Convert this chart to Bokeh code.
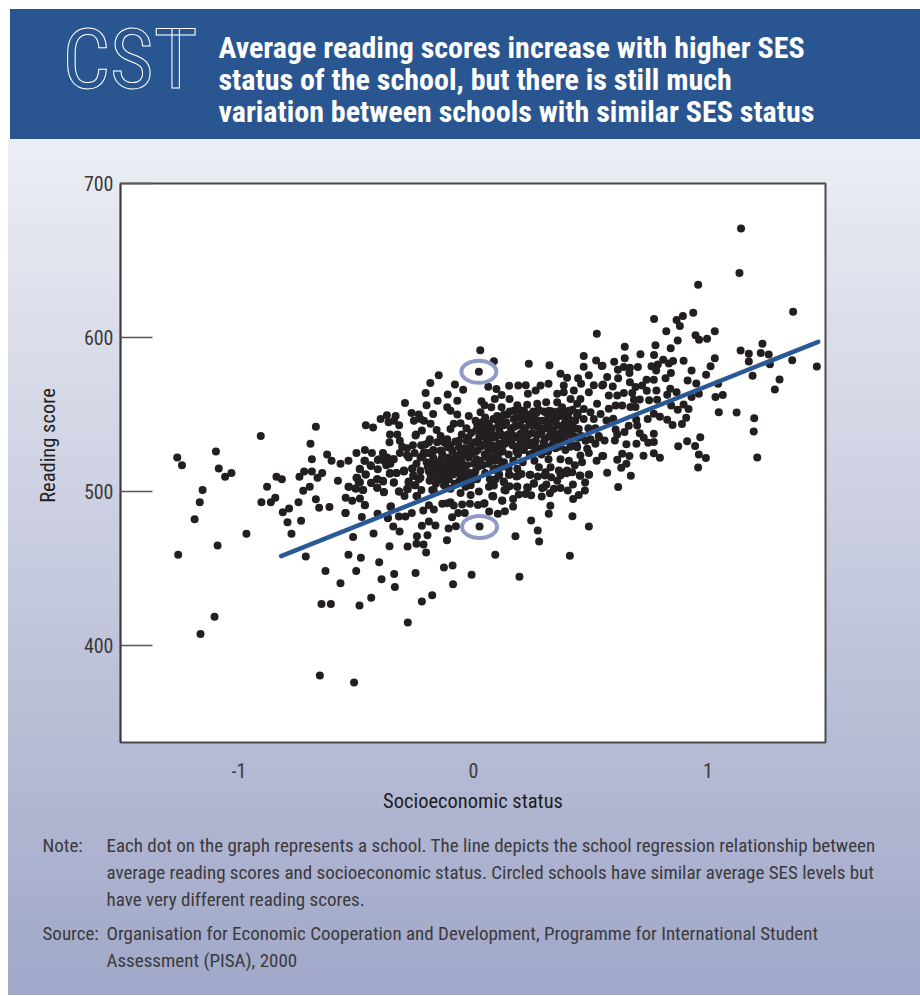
import math
from bokeh.plotting import figure
from bokeh.layouts import column, row
from bokeh.models import Label, FixedTicker
from bokeh.embed import file_html
from bokeh.resources import INLINE

# Values: (socioeconomic status, reading score) for each school, by region
schools_far_left = [(-1.263,522),(-1.243,517),(-1.098,526),(-1.086,515),(-1.032,512),(-1.059,509.5),(-1.155,501),(-1.167,493),(-1.189,482),(-0.968,472.5),(-1.091,465),(-1.259,459),(-0.907,536),(-1.104,418.6),(-1.164,407.5),
(-0.904,493),(-0.864,493),(-0.845,496),(-0.88,503),(-0.84,509.5),(-0.817,508),(-0.813,486.5),(-0.786,489),(-0.793,480),(-0.735,481),(-0.776,472.5),(-0.746,493)]

schools_low = [(-0.655,380.5),(-0.509,376),(-0.28,415),(-0.648,427),(-0.608,427),(-0.486,426),(-0.436,431),(-0.176,432.6),(-0.22,428.5),(-0.567,440.4),(-0.392,443),(-0.335,438),(-0.338,446.5),(-0.087,439.8),(-0.008,446),(-0.247,447),(-0.5,448.4),(-0.631,448.4),(-0.402,454),(-0.126,450.6),(-0.089,452),(-0.533,459),(-0.48,457),(-0.715,457.8),(0.093,459),(-0.202,460.4),(-0.358,464.5),(-0.281,464.2),(-0.243,466),(-0.213,465.5),(-0.113,468.4),(-0.513,470.5),(-0.426,472.7),(-0.241,471),(-0.196,471.6),(-0.315,474),(-0.342,477.2),(-0.22,477.7),(-0.19,480.5),(-0.162,477.9),(-0.106,476),(-0.075,477.4),(0.026,477.2),
(-0.546,486),(-0.476,483.5),(-0.409,485.5),(-0.365,482.6),(-0.318,483.7),(-0.29,483.7),(-0.263,486),(-0.214,487.6),(-0.169,488.3),(-0.19,491),(-0.133,492),(-0.091,483.3),(-0.065,486),(-0.037,486),(0.067,487),(0.104,485.5),(-0.015,492),(0.019,491.3),(0.047,492.4),(-0.084,490.9),(-0.048,491.5),(-0.112,492.4),(-0.463,491.3),(-0.352,490.4)]

schools_mid_left = [(-0.672,542),(-0.695,531),(-0.689,521),(-0.624,524),(-0.605,520),(-0.567,518),(-0.533,520),(-0.499,525),(-0.463,527),(-0.433,525),(-0.459,543),(-0.428,541.5),(-0.722,513),(-0.689,513),(-0.645,512),(-0.665,509),(-0.742,509.5),(-0.698,503),(-0.726,500.5),(-0.672,495),(-0.658,489.5),(-0.614,490),(-0.578,507),(-0.545,486),(-0.533,503),(-0.501,502),(-0.47,501),(-0.484,506),(-0.496,509),(-0.459,511),(-0.484,514.5),(-0.463,520),(-0.437,516.5),(-0.408,514.5),(-0.408,520.5),(-0.386,525),(-0.368,522),(-0.354,518),(-0.342,521),(-0.372,517),(-0.382,520),(-0.356,512),(-0.329,512),(-0.295,513.5),(-0.261,515),(-0.436,505.5),(-0.41,508),(-0.385,506.5),(-0.41,502.5),(-0.382,499.5),(-0.339,506),(-0.317,500),(-0.294,497),(-0.277,506),(-0.28,501.5),(-0.248,504),(-0.243,497),(-0.545,496),(-0.517,494),(-0.484,495.5),(-0.463,491),(-0.354,490),(-0.365,483),
(-0.292,557.5),(-0.264,551),(-0.233,550),(-0.369,549.5),(-0.332,549),(-0.396,547),(-0.362,545),(-0.339,546),(-0.254,546),(-0.226,547),(-0.317,543),(-0.356,537),(-0.325,537),(-0.245,537),(-0.358,532),(-0.314,533),(-0.304,529),(-0.314,525),(-0.283,528),(-0.258,530),(-0.251,525),(-0.283,523.5),(-0.226,522),(-0.243,518),(-0.254,510),(-0.226,513.5),(-0.233,508),
(-0.276,522),(-0.216,523.4),(-0.195,525),(-0.172,527),(-0.14,526.6),(-0.112,528.8),(-0.091,526.6),(-0.062,528.8),(-0.375,522),(-0.34,521),(-0.465,520),(-0.439,517),(-0.403,521),(-0.485,514.7),(-0.357,511.5),(-0.328,512),(-0.297,513),(-0.261,514.7),(-0.257,510.4),(-0.46,511),(-0.499,509),(-0.489,506),(-0.411,508),(-0.386,507),(-0.436,505.6),(-0.34,505.6),(-0.276,506.5),(-0.251,504),(-0.411,502.4),(-0.382,499.6),(-0.531,503),(-0.503,502),(-0.472,501),(-0.283,501.8),(-0.318,500),(-0.222,501),(-0.24,497),(-0.176,501)]

schools_upper_center = [(0.029,591.7),(0.087,584.6),(0.023,577.7),(0.236,583),(0.324,582),(-0.148,575.5),(-0.184,570.5),(-0.204,564),(-0.079,569.4),(-0.044,566),(-0.11,563),(-0.153,559),(-0.069,559),(-0.2,556),(0.063,568),(0.098,566.6),(0.152,568.6),(0.191,568.8),(0.223,569),(0.286,568.8),(0.32,570),(0.265,565.5),(0.232,563.4),(0.12,562.7),(0.154,560),(0.357,563.4),(0.034,558.6),(0.091,560),(0.047,556),(0.076,554.7),(0.12,554.7),(0.187,556),(0.229,556.4),(0.272,557),(0.31,558),(0.322,552.5),(0.357,558),
(-0.172,550.4),(-0.211,546),(-0.183,544),(-0.157,540),(-0.22,539.6),(-0.247,536.3),(-0.186,534),(-0.112,554.7),(-0.098,552.5),(-0.069,550),(-0.02,549),(0.03,551.5),(-0.084,544),(-0.055,544.3),(-0.098,540.6),(0.009,546),(0.044,543),(0.03,539.6),(0.059,539.6),(0.106,543),(0.13,543),(0.101,549),(0.144,550),(0.172,552.5),(0.215,552.5),(0.258,550),(-0.022,535),(-0.062,533),(-0.098,530),(-0.126,532),(-0.19,532),(-0.223,530),(-0.211,525.5),(-0.169,526.6),(-0.133,524.4),(-0.105,522),(-0.05,537),(-0.03,541),(-0.01,538),(-0.04,528),(-0.03,533),(-0.01,530),(-0.14,536),(-0.112,534),(-0.077,532.5),(-0.155,532),(-0.205,530.5)]

schools_dense_left = [(-0.2,519),(-0.19,513),(-0.187,507),(-0.177,516),(-0.172,522),(-0.165,510),(-0.16,505),(-0.155,518),(-0.15,513),(-0.143,508),(-0.138,521),(-0.133,515),(-0.128,511),(-0.12,505),(-0.115,518),(-0.11,513),(-0.105,508),(-0.098,520),(-0.092,515),(-0.087,511),(-0.08,505),(-0.075,523),(-0.07,517),(-0.065,512),(-0.06,507),(-0.052,520),(-0.047,514),(-0.04,509),(-0.034,503),(-0.028,517),(-0.02,522),(-0.015,512),(-0.01,507),(-0.005,525),(0.002,518),(0.008,513),(0.015,508),
(-0.195,516),(-0.182,510),(-0.17,519),(-0.158,513),(-0.146,517),(-0.135,509),(-0.122,514),(-0.112,509),(-0.102,516),(-0.09,519),(-0.078,514),(-0.068,520),(-0.055,511),(-0.043,517),(-0.03,512),(-0.018,508),(-0.06,524),(-0.04,524),(-0.024,527),(0.0,510),(0.012,521)]

schools_dense_middle = [(0.005,532),(0.012,540),(0.018,527),(0.025,536),(0.03,520),(0.037,545),(0.042,530),(0.048,524),(0.053,538),(0.06,533),(0.066,518),(0.07,527),(0.077,541),(0.083,522),(0.09,535),(0.095,515),(0.1,529),(0.105,546),(0.112,520),(0.118,537),(0.125,526),(0.02,516),(0.05,512),(0.07,508),(0.09,520),(0.11,511),(0.13,519),(0.15,515),(0.17,520),(0.19,524),(0.21,519),(0.24,524),(0.26,520),(0.29,524),(0.32,521),
(0.01,526),(0.02,533),(0.03,529),(0.04,536),(0.05,531),(0.062,526),(0.07,535),(0.08,530),(0.09,527),(0.1,536),(0.11,531),(0.12,529),(0.13,535),(0.085,514),(0.06,522),(0.04,517),(0.12,516),(0.105,524),
(0.015,544),(0.05,548),(0.065,544),(0.085,547),(0.12,546),(0.13,550),(0.16,533),(0.08,537),(0.035,541),(0.11,540)]

schools_dense_right = [(0.135,531),(0.14,545),(0.146,537),(0.15,524),(0.155,552),(0.16,541),(0.166,530),(0.172,547),(0.178,535),(0.183,526),(0.19,543),(0.195,553),(0.2,532),(0.205,538),(0.21,547),(0.215,527),(0.22,541),(0.226,534),(0.232,550),(0.238,544),(0.243,530),(0.25,538),(0.255,525),(0.26,547),(0.266,533),(0.272,542),(0.278,553),(0.283,528),(0.289,537),(0.295,546),(0.3,532),(0.306,541),(0.312,551),(0.318,526),(0.323,536),(0.33,545),(0.335,530),(0.34,540),(0.346,549),(0.352,534),(0.358,543),(0.363,529),(0.37,538),(0.375,549),(0.381,533),(0.387,544),(0.392,527),(0.398,537),(0.404,548),(0.41,532),(0.416,543),(0.422,553),(0.428,536),(0.434,546),(0.44,530),
(0.15,533),(0.165,537),(0.175,542),(0.19,529),(0.198,537),(0.212,533),(0.225,547),(0.235,537),(0.248,543),(0.262,529),(0.27,537),(0.28,546),(0.293,540),(0.305,534),(0.315,544),(0.328,540),(0.34,534),(0.352,547),(0.365,536),(0.378,542),(0.39,536),(0.402,541),(0.415,537),(0.426,546),(0.2,543),(0.255,552),(0.3,552),
(0.185,548),(0.205,551),(0.245,548),(0.268,551),(0.285,541),(0.32,548),(0.335,552),(0.345,537),(0.36,552),(0.372,531),(0.385,551),(0.395,546),(0.41,552),(0.43,541),(0.445,551),(0.45,535),(0.255,532),(0.225,530),(0.31,529),(0.35,528)]

schools_below_line = [(-0.012,504),(-0.055,499),(-0.098,493),(-0.226,509),(-0.297,513.6),(-0.169,500.6),(-0.126,504),(-0.098,501.7),(-0.012,497.8),(0.023,500),(0.084,497),(0.044,492),(0.08,497),(0.123,494),(0.066,503),(0.094,508),(0.137,500.6),(0.151,510.8),(0.187,514.7),(0.189,510),(0.243,510.8),(0.279,515.7),(0.187,503),(0.229,502.8),(0.13,506),(0.258,505),(0.3,502.8),(0.357,507),(0.393,512.5),(0.307,512.5),(0.329,515.7),(0.364,513.6),
(0.196,444.6),(0.411,458.2),(0.179,471),(0.28,467.5),(0.274,474.6),(0.246,481.1),(0.492,477.2),(0.321,485.5),(0.328,490.7),(0.422,484),(0.425,495.2),(0.449,497.8),(0.475,500.6),(0.476,505.8),(0.493,511),(0.453,510.4),(0.424,504.5),(0.402,500.6),(0.371,502.3),(0.343,501.7),(0.326,498.9),(0.291,496.7),(0.246,497.6),(0.222,498.4),(0.193,498),(0.232,502.3),(0.311,504.5),(0.293,502.3),(0.257,505.4),(0.371,510.4),(0.331,509.3),(0.304,510.4),(0.274,509.7),(0.24,510.8),(0.205,511.4),(0.183,509.7),(0.154,510.8),(0.186,503.2),(0.154,503.4),(0.132,501),(0.129,506.5),(0.169,495.2),(0.122,494.1),(0.169,490.2),(0.134,487.2),(0.084,496.7),(0.087,503.9),(0.108,510.4),(0.421,512.5),(0.397,511.9)]

schools_upper_right = [(0.526,602.5),(0.47,588),(0.47,581),(0.523,585),(0.547,581.5),(0.492,575.5),(0.446,573.5),(0.399,573.8),(0.371,576.4),(0.459,570),(0.553,569.4),(0.513,569),(0.492,564.4),(0.428,565.5),(0.456,560),(0.527,557),(0.499,551.5),(0.47,553.6),(0.442,557),(0.414,560),(0.385,568.8),(0.385,564.4),(0.378,554.7),(0.407,552.5),(0.442,549.3),(0.47,547),(0.513,547),(0.542,550.4),(0.385,541.7),(0.414,545),(0.449,540.6),(0.534,536),(0.499,534),(0.478,533),(0.52,531),(0.485,527.7),(0.442,528.7),(0.414,529),(0.456,523.3),(0.492,525),(0.525,520),(0.549,523),(0.463,519),(0.432,517),(0.407,520),(0.371,521),(0.399,513.6),(0.371,512.5),(0.456,510.3),(0.492,510.8),(0.535,535),(0.52,541),(0.49,541),(0.46,536),
(1.141,670.8),(1.134,641.8),(0.958,634.2),(1.363,616.7),(0.77,612),(0.937,616),(0.893,614),(0.866,611.3),(0.88,607.4),(0.822,604),(1.029,604),(0.871,598),(0.947,601.5),(0.962,598.5),(0.996,599.2),(0.645,594),(0.776,595),(0.841,593),(1.232,596),(1.139,591.6),(1.174,589.4),(1.225,589.9),(1.259,589),(1.029,586.6),(1.174,584.4),(1.264,582.7),(1.359,585.3),(1.464,581.2),(0.712,589.2),(0.77,588.6),(0.645,586.6),(0.6,584.2),(0.55,581.6),(0.809,585.5),(0.851,584.7),(0.896,584.9),(0.833,583.1),(0.786,582.5),(0.759,581.4),(0.779,578.6),(0.701,580.8),(0.667,580.3),(0.641,580.8),(0.616,579),(0.665,576.9),(0.842,576.9),(0.819,573.6),(0.93,578.6),(1.011,581.4),(0.992,575.8),(1.19,575.1),(1.305,572.8),(1.285,566.3),(0.913,572.1),(0.95,570.2),(1.043,570),(0.738,572.5),(0.769,572.5),(0.57,574.3),(0.617,573.6),(0.549,568.9),(0.594,568.2),(0.719,568.9),(0.667,571),(0.691,567.8),(0.739,565.4),(0.78,565.6),(0.839,566.7),(0.866,564.5),(0.826,562.8),(0.961,563.5),(0.93,561.3),(1.032,561.3),(1.063,562.6),(1.046,551.5),(1.122,551.3),(1.197,547.6),(1.195,539),(1.21,522.1)]

schools_lower_right = [(0.783,559.5),(0.749,559.3),(0.709,559.8),(0.677,563.9),(0.641,563.9),(0.613,562.4),(0.577,562.4),(0.684,559.6),(0.634,555.9),(0.606,555.9),(0.577,553.7),(0.669,554.8),(0.691,554.8),(0.843,555.9),(0.871,553.1),(0.896,556.5),(0.917,553.5),(0.769,550.5),(0.795,548.5),(0.826,546.6),(0.849,543.1),(0.889,543.8),(0.907,547.9),(0.743,547),(0.694,546.6),(0.698,542.9),(0.662,542.7),(0.644,538.6),(0.606,540.3),(0.596,547.2),(0.567,546.1),(0.613,537),(0.769,537.5),(0.709,537.9),(0.726,534.9),(0.745,531.6),(0.769,532.1),(0.695,531),(0.652,530.6),(0.603,533.1),(0.559,533.1),(0.873,529.3),(0.911,532.7),(0.967,535.3),(0.945,529.5),(0.961,524),(0.991,521.7),(0.958,515.6),(0.769,524.9),(0.795,521.9),(0.725,523.2),(0.665,523),(0.634,524.5),(0.553,523),(0.613,520.6),(0.652,518),(0.63,515.4),(0.57,512.2),(0.671,510.2),(0.617,502.9)]

ring_ses = [0.023, 0.026]
ring_score = [577.7, 477.0]
line_ses = [-0.82, 1.47]
line_score = [458, 597.2]

x_ticks = [-1, 0, 1]
y_ticks = [400, 500, 600, 700]
x_title = "Socioeconomic status"
y_title = "Reading score"
headline = ["Average reading scores increase with higher SES",
            "status of the school, but there is still much",
            "variation between schools with similar SES status"]
note_lines = ["Each dot on the graph represents a school. The line depicts the school regression relationship between",
              "average reading scores and socioeconomic status. Circled schools have similar average SES levels but",
              "have very different reading scores."]
source_lines = ["Organisation for Economic Cooperation and Development, Programme for International Student",
                "Assessment (PISA), 2000"]

schools = (schools_far_left + schools_low + schools_mid_left + schools_upper_center + schools_dense_left
           + schools_dense_middle + schools_dense_right + schools_below_line + schools_upper_right + schools_lower_right)
ses = [s[0] for s in schools]
score = [s[1] for s in schools]

W = 920
HEAD_H, MAIN_H, FOOT_H = 139, 681, 176
SIDE_W = 72
FONT = "Roboto Condensed"
INK = "#3a3a3c"
BLUE = "#295690"


def text_panel(width, height, y_offset):
    f = figure(width=width, height=height, x_range=(0, width), y_range=(y_offset + height, y_offset),
               min_border=0, output_backend="svg", toolbar_location=None)
    f.axis.visible = False
    f.grid.visible = False
    f.outline_line_color = None
    f.background_fill_color = None
    f.border_fill_color = None
    f.frame_align = False
    return f


def put(f, text, px, py, size, color, style="normal", align="left", **kw):
    f.add_layout(Label(text=text, x=px, y=py, text_font=FONT, text_font_size=f"{size}px", text_color=color,
                       text_font_style=style, text_baseline="middle", text_align=align, **kw))


head = text_panel(W, HEAD_H, 0)
put(head, "CST", 62, 59, 84, BLUE, text_outline_color="white")
for line_text, py in zip(headline, (47, 79, 111)):
    put(head, line_text, 218, py, 30, "white", "bold")

side = text_panel(SIDE_W, MAIN_H, HEAD_H)
put(side, y_title, 47, 445, 20.5, "#1f1f21", align="center", angle=math.pi / 2)

p = figure(width=W - SIDE_W, height=MAIN_H, frame_width=705, frame_height=559,
           x_range=(-1.505, 1.501), y_range=(337, 700),
           min_border_left=120 - SIDE_W, min_border_right=95, min_border_top=44, min_border_bottom=78,
           output_backend="svg", toolbar_location=None)
p.frame_align = False
p.border_fill_color = None
p.background_fill_color = "white"
p.grid.visible = False
p.outline_line_color = "#4a4a4c"
p.outline_line_width = 2

p.xaxis.ticker = FixedTicker(ticks=x_ticks)
p.xaxis.major_label_overrides = {-1: "-1", 0: "0", 1: "1"}
p.xaxis.major_tick_line_color = None
p.xaxis.minor_tick_line_color = None
p.xaxis.axis_line_color = None
p.xaxis.major_label_standoff = 14
p.xaxis.axis_label = x_title
p.xaxis.axis_label_standoff = 8
p.yaxis.ticker = FixedTicker(ticks=y_ticks)
p.yaxis.major_tick_in = 32
p.yaxis.major_tick_out = 0
p.yaxis.major_tick_line_color = "#555555"
p.yaxis.major_tick_line_width = 1.5
p.yaxis.minor_tick_line_color = None
p.yaxis.axis_line_color = "#3a3a3c"
p.yaxis.axis_line_width = 1.5
p.yaxis.major_label_standoff = 7
p.yaxis.major_label_orientation = "horizontal"
for ax in (p.xaxis, p.yaxis):
    ax.major_label_text_font = FONT
    ax.major_label_text_font_size = "20px"
    ax.major_label_text_color = INK
    ax.axis_label_text_font = FONT
    ax.axis_label_text_font_size = "20.5px"
    ax.axis_label_text_font_style = "normal"
    ax.axis_label_text_color = "#1f1f21"

p.scatter(ses, score, size=8, color="#231f20", line_color=None)
p.line(line_ses, line_score, line_width=4.5, line_color="#2a5a96", line_cap="round")
p.ellipse(ring_ses, ring_score, width=35, height=22, width_units="screen", height_units="screen",
          fill_color=None, line_color="#8f9bc6", line_width=4)

foot = text_panel(W, FOOT_H, HEAD_H + MAIN_H)
put(foot, "Note:", 42, 845, 19, INK)
for line_text, py in zip(note_lines, (845, 872, 899)):
    put(foot, line_text, 106, py, 19, INK)
put(foot, "Source:", 42, 933, 19, INK)
for line_text, py in zip(source_lines, (933, 960)):
    put(foot, line_text, 106, py, 19, INK)

page = column(head, row(side, p, spacing=0), foot, spacing=0)
page.styles = {
    "background-image": f"linear-gradient({BLUE},{BLUE}), linear-gradient(#eceef4,#a0a7c8)",
    "background-size": "910px 130px, 912px 856px",
    "background-position": "10px 9px, 8px 139px",
    "background-repeat": "no-repeat",
}

open("out.html", "w").write(file_html(page, INLINE))
